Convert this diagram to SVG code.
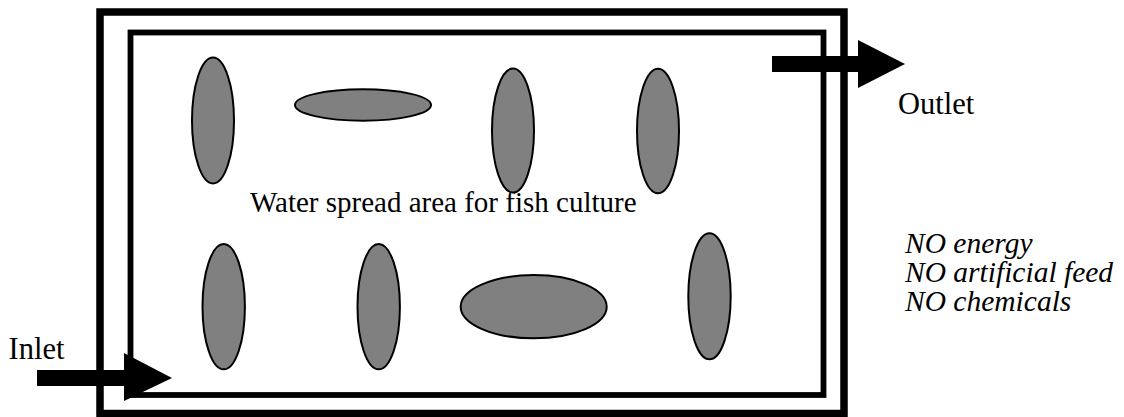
<svg xmlns="http://www.w3.org/2000/svg" width="1124" height="417" viewBox="0 0 1124 417">
<style>
.frame{fill:none;stroke:#000}
.pond ellipse{fill:#808080;stroke:#000;stroke-width:2}
text{font-family:'Liberation Serif','Times New Roman',Times,serif;fill:#000}
.i{font-style:italic}
.arrow{fill:#000}
</style>
<rect width="1124" height="417" fill="#fff"/>
<g id="outer-bank"><rect class="frame" x="100" y="12" width="744" height="401.5" stroke-width="7.5"/></g>
<g id="inner-bank"><rect class="frame" x="130.5" y="32.5" width="693" height="362.5" stroke-width="5.8"/></g>
<g id="label-water"><text x="250" y="211.5" font-size="29" font-family="Liberation Serif, serif">Water spread area for fish culture</text></g>
<g id="islands" class="pond">
<ellipse id="e1" cx="213" cy="120.5" rx="21" ry="63"/>
<ellipse id="e2" cx="363" cy="105" rx="68" ry="15.7"/>
<ellipse id="e3" cx="513" cy="130.5" rx="21" ry="62"/>
<ellipse id="e4" cx="658" cy="131" rx="21" ry="62.3"/>
<ellipse id="e5" cx="223.7" cy="306.7" rx="21.2" ry="62.6"/>
<ellipse id="e6" cx="378.7" cy="306.7" rx="21.2" ry="62.6"/>
<ellipse id="e7" cx="533.7" cy="306.7" rx="73" ry="31.6"/>
<ellipse id="e8" cx="709.5" cy="296.3" rx="21.2" ry="63"/>
</g>
<g id="connectors">
<g id="outlet-arrow"><rect class="arrow" x="772" y="56" width="87" height="16"/><polygon class="arrow" points="858,40 905,64 858,88"/></g>
<g id="inlet-arrow"><rect class="arrow" x="37" y="370" width="88" height="16"/><polygon class="arrow" points="124,353 172,378 124,401"/></g>
</g>
<g id="label-outlet"><text x="898" y="113.5" font-size="30.5" font-family="Liberation Serif, serif">Outlet</text></g>
<g id="label-inlet"><text x="8.5" y="358.5" font-size="30.5" font-family="Liberation Serif, serif">Inlet</text></g>
<g id="label-no" font-family="Liberation Serif, serif" font-style="italic" font-size="29.5">
<text class="i" x="905" y="253" font-family="Liberation Serif, serif">NO energy</text>
<text class="i" x="905" y="282" font-family="Liberation Serif, serif">NO artificial feed</text>
<text class="i" x="905" y="311" font-family="Liberation Serif, serif">NO chemicals</text>
</g>
</svg>
